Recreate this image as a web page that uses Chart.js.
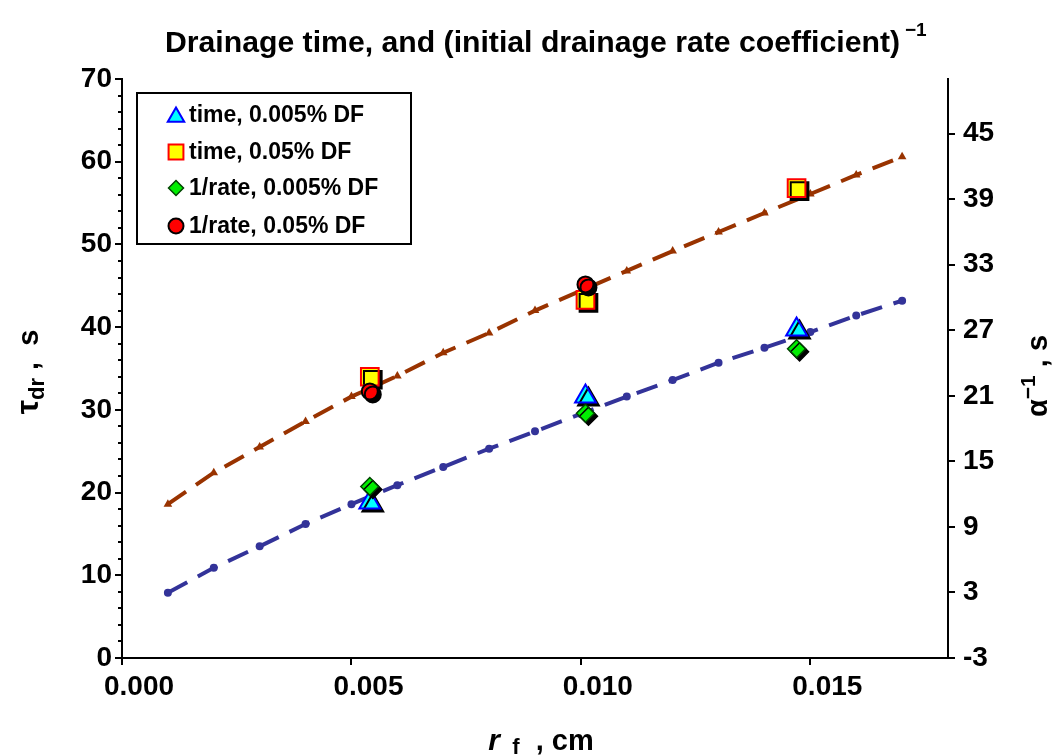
<!DOCTYPE html>
<html>
<head>
<meta charset="utf-8">
<script src="https://cdn.jsdelivr.net/npm/chart.js@4/dist/chart.umd.min.js"></script>
<style>
  html, body { margin: 0; padding: 0; background: #fff; }
  #chart { display: block; }
</style>
</head>
<body>
<canvas id="chart" width="1054" height="756"></canvas>
<script>
// valores
const fitX = [0.001, 0.002, 0.003, 0.004, 0.005, 0.006, 0.007, 0.008, 0.009,
              0.010, 0.011, 0.012, 0.013, 0.014, 0.015, 0.016, 0.017];
const fitDF005 = [7.9, 10.9, 13.5, 16.2, 18.6, 20.9, 23.1, 25.3, 27.4,
                  29.5, 31.6, 33.6, 35.7, 37.5, 39.4, 41.4, 43.2];
const fitDF05 = [18.6, 22.4, 25.5, 28.6, 31.6, 34.1, 36.9, 39.3, 42.0,
                 44.4, 46.8, 49.2, 51.5, 53.8, 56.1, 58.4, 60.6];

const rf = [0.0054, 0.0101, 0.0147];
const time005 = [18.8, 31.6, 39.7];
const time05 = [34.0, 43.3, 56.8];
const rate005 = [12.7, 19.4, 25.3];
const rfRate05 = [0.0054, 0.0101];
const rate05 = [21.4, 31.2];

const xTicks = [0.000, 0.005, 0.010, 0.015];
const leftTicks = [0, 10, 20, 30, 40, 50, 60, 70];
const rightTicks = [-3, 3, 9, 15, 21, 27, 33, 39, 45];

const legendLabels = ['time, 0.005% DF', 'time, 0.05% DF', '1/rate, 0.005% DF', '1/rate, 0.05% DF'];

const FONT = "'Liberation Sans', Arial, sans-serif";

function pares(xs, ys) {
    return xs.map((x, i) => ({ x: x, y: ys[i] }));
}

// sombra preta dos marcadores
const sombraPlugin = {
    id: 'sombra',
    beforeDatasetDraw(chart, args) {
        if (!args.meta._dataset.sombra) return;
        const ctx = chart.ctx;
        ctx.save();
        ctx.shadowColor = '#000';
        ctx.shadowOffsetX = 3;
        ctx.shadowOffsetY = 3;
        ctx.shadowBlur = 0;
    },
    afterDatasetDraw(chart, args) {
        if (!args.meta._dataset.sombra) return;
        chart.ctx.restore();
    }
};

function textoRico(ctx, partes, x, y) {
    // partes: [texto, fonte, deslocamento vertical]
    let total = 0;
    partes.forEach(p => { ctx.font = p[1]; total += ctx.measureText(p[0]).width; });
    let cx = x - total / 2;
    partes.forEach(p => {
        ctx.font = p[1];
        ctx.fillText(p[0], cx, y + (p[2] || 0));
        cx += ctx.measureText(p[0]).width;
    });
}

const textosPlugin = {
    id: 'textos',
    afterDraw(chart) {
        const ctx = chart.ctx;
        const area = chart.chartArea;
        ctx.save();
        ctx.fillStyle = '#000';
        ctx.textBaseline = 'alphabetic';
        ctx.textAlign = 'left';

        // titulo (comprimido na horizontal)
        const titulo = 'Drainage time, and (initial drainage rate coefficient)';
        ctx.font = 'bold 30px ' + FONT;
        const w = ctx.measureText(titulo).width;
        const alvo = 735;
        ctx.save();
        ctx.translate(165, 52);
        ctx.scale(alvo / w, 1);
        ctx.fillText(titulo, 0, 0);
        ctx.restore();
        ctx.font = 'bold 19px ' + FONT;
        ctx.fillText('\u22121', 905, 36);

        // titulo eixo esquerdo
        ctx.save();
        ctx.translate(38, 372);
        ctx.rotate(-Math.PI / 2);
        textoRico(ctx, [
            ['\u03c4', 'bold 32px ' + FONT, 0],
            ['dr', 'bold 22px ' + FONT, 6],
            [' ,  s', 'bold 29px ' + FONT, 0]
        ], 0, 0);
        ctx.restore();

        // titulo eixo direito
        ctx.save();
        ctx.translate(1047, 376);
        ctx.rotate(-Math.PI / 2);
        textoRico(ctx, [
            ['\u03b1', 'bold 29px ' + FONT, 0],
            ['\u22121', 'bold 21px ' + FONT, -12],
            [' , s', 'bold 29px ' + FONT, 0]
        ], 0, 0);
        ctx.restore();

        // titulo eixo x
        textoRico(ctx, [
            ['r', 'italic bold 30px ' + FONT, 0],
            ['  f', 'bold 22px ' + FONT, 4],
            ['  , cm', 'bold 29px ' + FONT, 0]
        ], 541, 750);

        // marcas menores do eixo esquerdo
        const yL = chart.scales.y;
        ctx.strokeStyle = '#000';
        ctx.lineWidth = 2;
        for (let v = 0; v <= 70; v += 2) {
            if (v % 10 === 0) continue;
            const py = Math.round(yL.getPixelForValue(v));
            ctx.beginPath();
            ctx.moveTo(area.left - 4, py);
            ctx.lineTo(area.left, py);
            ctx.stroke();
        }

        // legenda
        const lx = 137, ly = 93, lw = 274, lh = 151;
        ctx.fillStyle = '#fff';
        ctx.fillRect(lx, ly, lw, lh);
        ctx.strokeStyle = '#000';
        ctx.lineWidth = 2;
        ctx.strokeRect(lx, ly, lw, lh);
        const linhas = [115, 152, 188, 226];
        const ds = chart.data.datasets.filter(d => d.sombra);
        ds.forEach((d, i) => {
            ctx.fillStyle = d.backgroundColor;
            ctx.strokeStyle = d.borderColor;
            ctx.lineWidth = d.borderWidth;
            const r = d.pointStyle === 'triangle' ? 9.5 : (d.pointStyle === 'rect' ? 10.5 : 7.5);
            Chart.helpers.drawPoint(ctx, { pointStyle: d.pointStyle, rotation: 0, radius: r, borderWidth: d.borderWidth }, 176, linhas[i] + (d.pointStyle === 'triangle' ? 2 : 0));
            ctx.fillStyle = '#000';
            ctx.font = 'bold 23px ' + FONT;
            ctx.textBaseline = 'middle';
            ctx.fillText(legendLabels[i], 189, linhas[i] + 1);
        });
        ctx.restore();
    }
};

const ctx = document.getElementById('chart').getContext('2d');

new Chart(ctx, {
    type: 'scatter',
    data: {
        datasets: [
            {
                label: 'fit 0.005% DF',
                type: 'line',
                data: pares(fitX, fitDF005),
                yAxisID: 'y',
                borderColor: '#333399',
                backgroundColor: '#333399',
                borderWidth: 4,
                borderDash: [22, 12],
                pointStyle: 'circle',
                pointRadius: 4,
                pointBorderWidth: 0,
                fill: false,
                tension: 0,
                order: 10
            },
            {
                label: 'fit 0.05% DF',
                type: 'line',
                data: pares(fitX, fitDF05),
                yAxisID: 'y',
                borderColor: '#993300',
                backgroundColor: '#993300',
                borderWidth: 4,
                borderDash: [22, 12],
                pointStyle: 'triangle',
                pointRadius: 5,
                pointBorderWidth: 0,
                fill: false,
                tension: 0,
                order: 9
            },
            {
                label: legendLabels[0],
                data: pares(rf, time005),
                yAxisID: 'y',
                pointStyle: 'triangle',
                pointRadius: 12,
                backgroundColor: '#00ffff',
                borderColor: '#0000ff',
                borderWidth: 2,
                sombra: true,
                order: 4
            },
            {
                label: legendLabels[1],
                data: pares(rf, time05),
                yAxisID: 'y',
                pointStyle: 'rect',
                pointRadius: 12.5,
                backgroundColor: '#ffff00',
                borderColor: '#ff0000',
                borderWidth: 2,
                sombra: true,
                order: 3
            },
            {
                label: legendLabels[2],
                data: pares(rf, rate005),
                yAxisID: 'y2',
                pointStyle: 'rectRot',
                pointRadius: 9,
                backgroundColor: '#00ee00',
                borderColor: '#004400',
                borderWidth: 1.5,
                sombra: true,
                order: 2
            },
            {
                label: legendLabels[3],
                data: pares(rfRate05, rate05),
                yAxisID: 'y2',
                pointStyle: 'circle',
                pointRadius: 8,
                backgroundColor: '#ff0000',
                borderColor: '#000000',
                borderWidth: 2,
                sombra: true,
                order: 1
            }
        ]
    },
    options: {
        responsive: false,
        animation: false,
        layout: { padding: { top: 79, left: 0, right: 0, bottom: 0 } },
        plugins: {
            legend: { display: false },
            title: { display: false },
            tooltip: { enabled: false }
        },
        scales: {
            x: {
                type: 'linear',
                min: 0,
                max: 0.018,
                afterBuildTicks: s => { s.ticks = xTicks.map(v => ({ value: v })); },
                afterFit: s => { s.height = 98; },
                ticks: {
                    color: '#000',
                    font: { family: FONT, size: 28, weight: 'bold' },
                    padding: 5,
                    labelOffset: 17,
                    maxRotation: 0,
                    callback: v => v.toFixed(3)
                },
                grid: { drawOnChartArea: false, color: '#000', lineWidth: 2, tickLength: 7 },
                border: { color: '#000', width: 2 }
            },
            y: {
                position: 'left',
                min: 0,
                max: 70,
                afterBuildTicks: s => { s.ticks = leftTicks.map(v => ({ value: v })); },
                afterFit: s => { s.width = 122; },
                ticks: {
                    color: '#000',
                    font: { family: FONT, size: 28, weight: 'bold' },
                    padding: 3
                },
                grid: { drawOnChartArea: false, color: '#000', lineWidth: 2, tickLength: 7 },
                border: { color: '#000', width: 2 }
            },
            y2: {
                position: 'right',
                min: -3,
                max: 50,
                afterBuildTicks: s => { s.ticks = rightTicks.map(v => ({ value: v })); },
                afterFit: s => { s.width = 106; },
                ticks: {
                    color: '#000',
                    font: { family: FONT, size: 28, weight: 'bold' },
                    padding: 8
                },
                grid: { drawOnChartArea: false, color: '#000', lineWidth: 2, tickLength: 7 },
                border: { color: '#000', width: 2 }
            }
        }
    },
    plugins: [sombraPlugin, textosPlugin]
});
</script>
</body>
</html>
